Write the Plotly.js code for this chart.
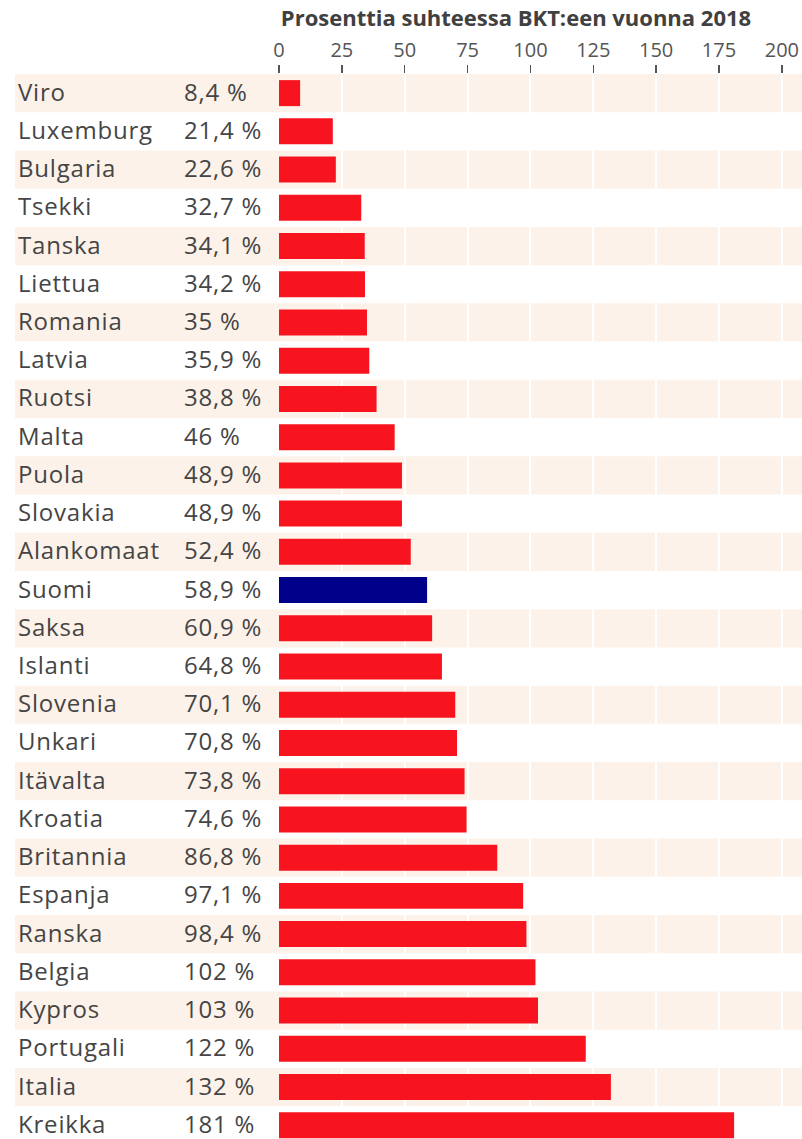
<!DOCTYPE html>
<html>
<head>
<meta charset="utf-8">
<script src="https://cdn.plot.ly/plotly-3.0.1.min.js"></script>
<style>
html,body{margin:0;padding:0;overflow:hidden;background:#fff;}
#chart{width:802px;height:1139px;}
</style>
</head>
<body>
<div id="chart"></div>
<script>
const countries = ["Viro","Luxemburg","Bulgaria","Tsekki","Tanska","Liettua","Romania","Latvia","Ruotsi","Malta","Puola","Slovakia","Alankomaat","Suomi","Saksa","Islanti","Slovenia","Unkari","Itävalta","Kroatia","Britannia","Espanja","Ranska","Belgia","Kypros","Portugali","Italia","Kreikka"];
const values = [8.4,21.4,22.6,32.7,34.1,34.2,35,35.9,38.8,46,48.9,48.9,52.4,58.9,60.9,64.8,70.1,70.8,73.8,74.6,86.8,97.1,98.4,102,103,122,132,181];
const valueLabels = ["8,4 %","21,4 %","22,6 %","32,7 %","34,1 %","34,2 %","35 %","35,9 %","38,8 %","46 %","48,9 %","48,9 %","52,4 %","58,9 %","60,9 %","64,8 %","70,1 %","70,8 %","73,8 %","74,6 %","86,8 %","97,1 %","98,4 %","102 %","103 %","122 %","132 %","181 %"];
const tickValues = [0,25,50,75,100,125,150,175,200];
const highlight = "Suomi";
const titleText = "Prosenttia suhteessa BKT:een vuonna 2018";

const W = 802, H = 1139;
const RED = "#f7141f", NAVY = "#00008a", BEIGE = "#fcf2e9";

const colors = countries.map(c => c === highlight ? NAVY : RED);

const shapes = [];
countries.forEach((c, i) => {
  if (i % 2 === 0) {
    shapes.push({type:"rect", xref:"paper", yref:"y", x0:15/W, x1:1, y0:i-0.5, y1:i+0.5,
      fillcolor:BEIGE, line:{width:0}, layer:"below"});
  }
});

const spaced = t => '<span style="letter-spacing:0.8px">' + t + '</span>';
const labelFont = {family:"Open Sans", size:24, color:"#454545"};
const annotations = [];
countries.forEach((c, i) => {
  annotations.push({xref:"paper", yref:"y", x:17/W, y:i, text:spaced(c), showarrow:false, borderpad:0, yshift:2,
    xanchor:"left", yanchor:"middle", font:labelFont});
  annotations.push({xref:"paper", yref:"y", x:183/W, y:i, text:spaced(valueLabels[i]), showarrow:false, borderpad:0, yshift:2,
    xanchor:"left", yanchor:"middle", font:labelFont});
});

const trace = {
  type:"bar", orientation:"h", x:values, y:countries.map((c,i)=>i),
  marker:{color:colors, line:{width:0}}, hoverinfo:"skip"
};

const layout = {
  width:W, height:H,
  margin:{l:0, r:0, t:74, b:0},
  paper_bgcolor:"#fff", plot_bgcolor:"rgba(0,0,0,0)",
  showlegend:false,
  bargap:0.32,
  title:{text:titleText, x:516/W, xanchor:"center", y:1-18/H, yanchor:"middle", yref:"container",
    font:{family:"Open Sans", size:22, weight:"bold", color:"#404040"}},
  xaxis:{domain:[279/W,1], range:[0,208], side:"top", tickvals:tickValues,
    ticktext:tickValues.map(String), ticks:"outside", ticklen:8, tickwidth:1.5, tickcolor:"#555",
    showgrid:true, gridcolor:"#ffffff", gridwidth:2, zeroline:false, showline:false,
    tickfont:{family:"Open Sans", size:20, color:"#555"}, fixedrange:true},
  yaxis:{range:[27.36,-0.5], showticklabels:false, ticks:"", showgrid:false, zeroline:false,
    showline:false, fixedrange:true},
  shapes:shapes,
  annotations:annotations
};

Plotly.newPlot("chart", [trace], layout, {displayModeBar:false, staticPlot:true});
</script>
</body>
</html>
